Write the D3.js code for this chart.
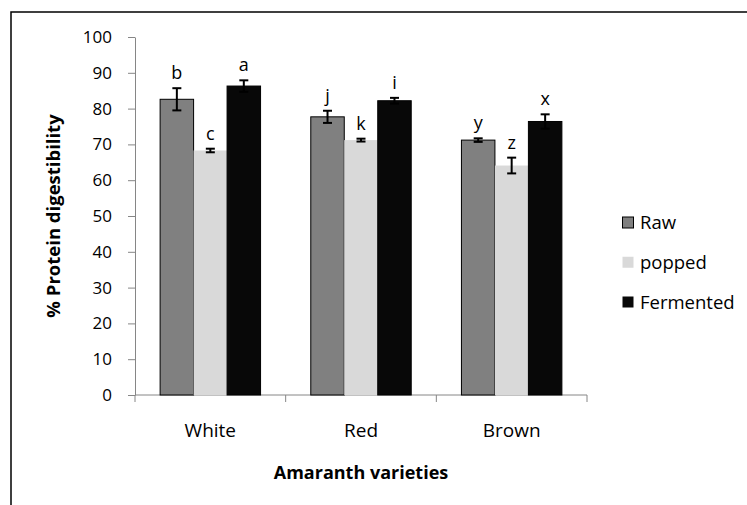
<!DOCTYPE html>
<html>
<head>
<meta charset="utf-8">
<script src="https://cdn.jsdelivr.net/npm/d3@7"></script>
<style>
  html, body { margin: 0; padding: 0; background: #fff; }
  svg { display: block; font-family: "Open Sans", sans-serif; }
</style>
</head>
<body>
<svg id="chart" width="747" height="505"></svg>
<script>
const categories = ["White", "Red", "Brown"];
const seriesNames = ["Raw", "popped", "Fermented"];
const rawValues = [82.6, 77.7, 71.2];
const poppedValues = [68.3, 71.2, 64.1];
const fermentedValues = [86.3, 82.2, 76.4];
const rawErrors = [3.1, 1.7, 0.5];
const poppedErrors = [0.5, 0.4, 2.2];
const fermentedErrors = [1.6, 0.8, 2.0];
const rawLetters = ["b", "j", "y"];
const poppedLetters = ["c", "k", "z"];
const fermentedLetters = ["a", "i", "x"];
const yTicks = [0, 10, 20, 30, 40, 50, 60, 70, 80, 90, 100];
const yTitle = "% Protein digestibility";
const xTitle = "Amaranth varieties";

const colors = { "Raw": "#808080", "popped": "#d9d9d9", "Fermented": "#080808" };
const strokes = { "Raw": "#000", "popped": "none", "Fermented": "#000" };

const seriesData = [
  { name: "Raw", values: rawValues, errors: rawErrors, letters: rawLetters },
  { name: "popped", values: poppedValues, errors: poppedErrors, letters: poppedLetters },
  { name: "Fermented", values: fermentedValues, errors: fermentedErrors, letters: fermentedLetters }
];

const svg = d3.select("#chart");
const axisColor = "#868686";

// outer frame
svg.append("rect").attr("x", 11).attr("y", 12).attr("width", 900).attr("height", 700)
  .attr("fill", "none").attr("stroke", "#000").attr("stroke-width", 1.5);

const plot = { left: 135, right: 587, top: 37, bottom: 395 };

const y = d3.scaleLinear().domain([0, 100]).range([plot.bottom, plot.top]);
const x0 = d3.scaleBand().domain(categories).range([plot.left, plot.right]).padding(0);
const bw = x0.bandwidth();
const x1 = d3.scaleBand().domain(seriesNames).range([bw / 6, bw * 5 / 6]).padding(0);

// Y axis
const yAxis = svg.append("g").attr("transform", `translate(${plot.left},0)`)
  .call(d3.axisLeft(y).tickValues(yTicks).tickSize(7).tickSizeOuter(0).tickPadding(16));
yAxis.select(".domain").attr("stroke", axisColor);
yAxis.selectAll(".tick line").attr("stroke", axisColor);
yAxis.selectAll(".tick text").attr("font-size", 17).attr("font-family", "Open Sans").attr("fill", "#000");

// X axis line and boundary ticks
const xg = svg.append("g");
xg.append("line").attr("x1", plot.left).attr("x2", plot.right)
  .attr("y1", y(0)).attr("y2", y(0)).attr("stroke", axisColor);
const bounds = categories.map(c => x0(c)).concat([x0.range()[1]]);
xg.selectAll("line.bt").data(bounds).enter().append("line")
  .attr("class", "bt")
  .attr("x1", d => d).attr("x2", d => d)
  .attr("y1", y(0)).attr("y2", y(0) + 7).attr("stroke", axisColor);
xg.selectAll("text.cat").data(categories).enter().append("text")
  .attr("class", "cat")
  .attr("x", d => x0(d) + bw / 2).attr("y", y(0) + 42)
  .attr("text-anchor", "middle").attr("font-size", 19).text(d => d);

// Bars
const groups = svg.selectAll("g.series").data(seriesData).enter().append("g").attr("class", "series");
groups.selectAll("rect").data(s => s.values.map((v, i) => ({ s: s.name, v, cat: categories[i] })))
  .enter().append("rect")
  .attr("x", d => x0(d.cat) + x1(d.s))
  .attr("y", d => y(d.v))
  .attr("width", x1.bandwidth())
  .attr("height", d => y(0) - y(d.v))
  .attr("fill", d => colors[d.s])
  .attr("stroke", d => strokes[d.s])
  .attr("stroke-width", 1);

// Error bars
const cap = 4.5;
groups.each(function (s) {
  const g = d3.select(this);
  s.values.forEach((v, i) => {
    const cx = x0(categories[i]) + x1(s.name) + x1.bandwidth() / 2;
    const yt = y(v + s.errors[i]), yb = y(v - s.errors[i]);
    const eb = g.append("g").attr("stroke", "#000").attr("stroke-width", 2);
    eb.append("line").attr("x1", cx).attr("x2", cx).attr("y1", yt).attr("y2", yb);
    eb.append("line").attr("x1", cx - cap).attr("x2", cx + cap).attr("y1", yt).attr("y2", yt);
    eb.append("line").attr("x1", cx - cap).attr("x2", cx + cap).attr("y1", yb).attr("y2", yb);
    g.append("text").attr("x", cx).attr("y", yt - 9)
      .attr("text-anchor", "middle").attr("font-size", 18).attr("fill", "#000")
      .text(s.letters[i]);
  });
});

// Axis titles
svg.append("text")
  .attr("transform", `translate(60,${(plot.top + plot.bottom) / 2}) rotate(-90)`)
  .attr("text-anchor", "middle").attr("font-size", 18.5).attr("font-weight", "bold")
  .text(yTitle);
svg.append("text").attr("x", (plot.left + plot.right) / 2).attr("y", 479)
  .attr("text-anchor", "middle").attr("font-size", 18).attr("font-weight", "bold")
  .text(xTitle);

// Legend
const legend = svg.append("g");
const legendY = d3.scalePoint().domain(seriesNames).range([222.5, 302]);
seriesNames.forEach(n => {
  const cy = legendY(n);
  legend.append("rect").attr("x", 622.5).attr("y", cy - 5.5).attr("width", 11).attr("height", 11)
    .attr("fill", colors[n]).attr("stroke", n === "Raw" ? "#000" : "none");
  legend.append("text").attr("x", 640).attr("y", cy + 6.5).attr("font-size", 18.5).text(n);
});
</script>
</body>
</html>
